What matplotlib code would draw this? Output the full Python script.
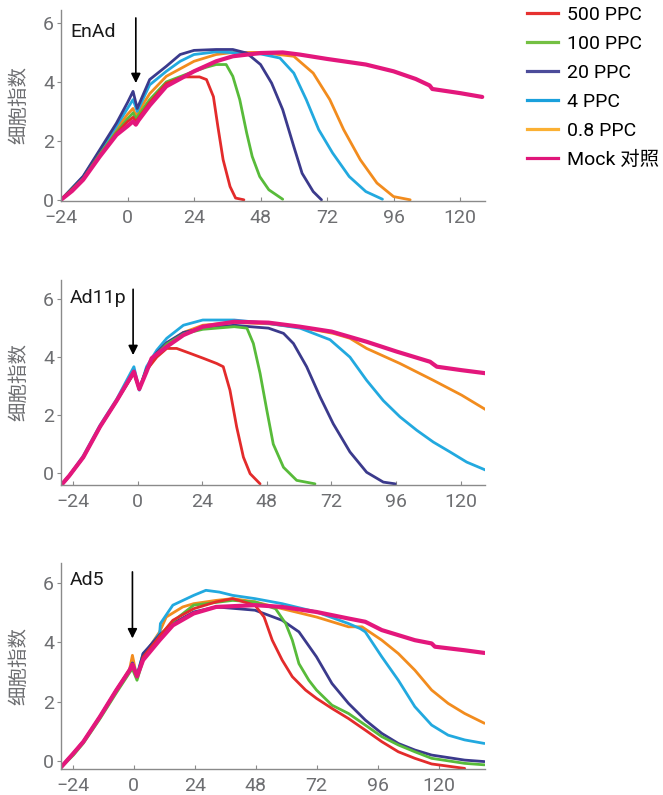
import matplotlib
matplotlib.use('Agg')
import matplotlib.pyplot as plt

plt.rcParams['font.family'] = ['Roboto', 'Noto Sans CJK SC', 'DejaVu Sans']

labels = ['500 PPC', '100 PPC', '20 PPC', '4 PPC', '0.8 PPC', 'Mock 对照']
colors = ['#e32b2b', '#58bb3a', '#3b3a8c', '#22a9df', '#f28c1e', '#e3177c']
legend_colors = ['#e63130', '#74c043', '#4c4c9a', '#1aa0dc', '#fbb033', '#e0157a']

# ---- EnAd ----
enad_t_500 = [-24, -16, -10, -4, 0, 2, 3, 8, 14, 20, 26, 28.5, 31, 32.6, 34.5, 37, 39, 42]
enad_v_500 = [0, 0.7, 1.5, 2.25, 2.65, 2.8, 2.65, 3.3, 3.95, 4.17, 4.17, 4.08, 3.5, 2.49, 1.36, 0.45, 0.06, 0]
enad_t_100 = [-24, -16, -10, -4, 0, 2, 3, 8, 14, 24, 28.5, 32, 35.6, 38, 40.5, 43, 45, 47.7, 51, 56]
enad_v_100 = [0, 0.72, 1.55, 2.3, 2.75, 2.95, 2.75, 3.4, 4.0, 4.36, 4.5, 4.59, 4.59, 4.19, 3.4, 2.27, 1.47, 0.79, 0.34, 0.02]
enad_t_20 = [-24, -16, -10, -4, 0, 2, 3.5, 8, 14, 19, 24, 32, 38, 43, 48, 52, 56, 60, 63, 67, 70]
enad_v_20 = [0, 0.8, 1.7, 2.6, 3.3, 3.68, 3.1, 4.08, 4.53, 4.93, 5.07, 5.1, 5.1, 4.98, 4.59, 3.96, 3.06, 1.81, 0.9, 0.28, 0]
enad_t_4 = [-24, -16, -10, -4, 0, 2, 3.5, 8, 14, 19, 24, 32, 48, 55, 60, 64.5, 69, 74, 80, 86, 92]
enad_v_4 = [0, 0.78, 1.65, 2.5, 3.1, 3.4, 3.0, 3.9, 4.36, 4.7, 4.93, 5.02, 4.95, 4.81, 4.3, 3.4, 2.38, 1.59, 0.79, 0.28, 0.02]
enad_t_08 = [-24, -16, -10, -4, 0, 2, 3, 8, 14, 24, 32, 38, 48, 60, 67, 73, 78, 84, 90, 96, 102]
enad_v_08 = [0, 0.75, 1.6, 2.4, 2.9, 3.1, 2.85, 3.6, 4.19, 4.7, 4.93, 5.0, 5.0, 4.87, 4.3, 3.4, 2.38, 1.36, 0.57, 0.11, 0]
enad_t_mock = [-24, -20, -16, -10, -4, 0, 2, 3, 4, 8, 14, 24, 32, 38, 48, 56, 62, 72, 86, 96, 104, 109, 110, 120, 128]
enad_v_mock = [0, 0.3, 0.68, 1.47, 2.2, 2.5, 2.66, 2.55, 2.7, 3.2, 3.85, 4.36, 4.7, 4.87, 4.98, 5.0, 4.93, 4.78, 4.59, 4.36, 4.1, 3.88, 3.76, 3.62, 3.49]

# ---- Ad11p ----
ad11_t_500 = [-28, -25.5, -20.2, -14, -7.8, -1.4, 0.6, 3.3, 7.1, 10.8, 14.5, 19.5, 24.4, 29.4, 31.8, 34.3, 36.8, 39.3, 41.8, 45.5]
ad11_v_500 = [-0.37, -0.1, 0.55, 1.6, 2.5, 3.45, 2.9, 3.55, 4.0, 4.3, 4.3, 4.13, 3.96, 3.78, 3.67, 2.86, 1.59, 0.55, -0.02, -0.37]
ad11_t_100 = [-28, -25.5, -20.2, -14, -7.8, -1.4, 0.6, 3.3, 7.1, 10.8, 17, 24.2, 35.9, 40.6, 43, 45.5, 48, 50.4, 54.2, 59.1, 65.9]
ad11_v_100 = [-0.37, -0.1, 0.55, 1.6, 2.5, 3.45, 2.9, 3.55, 4.1, 4.45, 4.8, 4.96, 5.05, 5.0, 4.47, 3.44, 2.17, 1.0, 0.2, -0.25, -0.37]
ad11_t_20 = [-28, -25.5, -20.2, -14, -7.8, -1.4, 0.6, 3.3, 7.1, 10.8, 17, 24.2, 35.9, 41.8, 48.6, 54.2, 57.9, 62.8, 67.8, 72.7, 78.9, 85.1, 91.3, 95.7]
ad11_v_20 = [-0.37, -0.1, 0.55, 1.6, 2.5, 3.5, 2.9, 3.6, 4.15, 4.5, 4.85, 5.0, 5.1, 5.05, 5.0, 4.82, 4.47, 3.67, 2.63, 1.7, 0.73, 0.03, -0.31, -0.37]
ad11_t_4 = [-28, -25.5, -20.2, -14, -7.8, -1.4, 0.6, 3.3, 7.1, 10.8, 17, 24.2, 35.9, 48, 60.3, 71.5, 78.9, 85.1, 91.3, 97.5, 103.7, 109.9, 116.1, 122.3, 129.7]
ad11_v_4 = [-0.37, -0.1, 0.6, 1.65, 2.55, 3.67, 2.86, 3.67, 4.24, 4.65, 5.1, 5.28, 5.28, 5.17, 5.0, 4.6, 4.0, 3.2, 2.5, 1.94, 1.48, 1.07, 0.73, 0.38, 0.09]
ad11_t_08 = [-28, -25.5, -20.2, -14, -7.8, -1.4, 0.6, 3.3, 7.1, 10.8, 17, 24.2, 35.9, 48.6, 60.3, 72.7, 78.9, 85.1, 97.5, 109.9, 120.4, 129.7]
ad11_v_08 = [-0.37, -0.1, 0.55, 1.6, 2.5, 3.5, 2.9, 3.55, 4.1, 4.45, 4.85, 5.1, 5.2, 5.15, 5.03, 4.82, 4.65, 4.3, 3.78, 3.2, 2.69, 2.17]
ad11_t_mock = [-28, -25.5, -20.2, -14, -7.8, -1.4, 0.6, 3.3, 5.2, 10.8, 17, 24.2, 35.9, 48.6, 60.3, 72.1, 85.1, 96.3, 108.7, 110, 111.2, 120.4, 129.7]
ad11_v_mock = [-0.37, -0.1, 0.55, 1.6, 2.5, 3.5, 2.9, 3.5, 3.96, 4.36, 4.76, 5.05, 5.22, 5.19, 5.05, 4.88, 4.53, 4.19, 3.84, 3.75, 3.67, 3.55, 3.44]

# ---- Ad5 ----
ad5_t_500 = [-29, -23.7, -19.8, -13.3, -6.8, -1.6, -0.5, 1.3, 3.7, 10.2, 15.4, 23.6, 32.4, 38.9, 47.7, 51.3, 54.5, 58.4, 62.4, 67.6, 71.9, 78, 84.5, 91.1, 97.6, 104.1, 110.6, 117.2, 130.2]
ad5_v_500 = [-0.25, 0.26, 0.65, 1.49, 2.39, 3.06, 3.2, 2.85, 3.5, 4.2, 4.74, 5.13, 5.36, 5.47, 5.25, 4.85, 4.07, 3.4, 2.84, 2.39, 2.11, 1.77, 1.43, 1.04, 0.65, 0.31, 0.09, -0.1, -0.25]
ad5_t_100 = [-29, -23.7, -19.8, -13.3, -6.8, -1.6, -0.5, 1.3, 3.7, 10.2, 15.4, 23.6, 38.9, 47.7, 55.8, 59.8, 62.4, 65, 68.9, 71.9, 78, 84.5, 91.1, 97.6, 104.1, 110.6, 117.2, 130.2, 138]
ad5_v_100 = [-0.25, 0.2, 0.6, 1.42, 2.3, 2.98, 3.1, 2.72, 3.4, 4.2, 4.7, 5.25, 5.41, 5.36, 5.13, 4.63, 4.07, 3.28, 2.72, 2.39, 1.88, 1.6, 1.21, 0.82, 0.54, 0.31, 0.09, -0.08, -0.13]
ad5_t_20 = [-29, -23.7, -19.8, -13.3, -6.8, -1.6, -0.5, 1.3, 3.7, 10.2, 15.4, 23.6, 32.4, 47.7, 58.4, 65, 71.9, 78, 84.5, 91.1, 97.6, 104.1, 110.6, 117.2, 130.2, 138]
ad5_v_20 = [-0.25, 0.26, 0.65, 1.49, 2.39, 3.06, 3.3, 2.85, 3.62, 4.25, 4.63, 5.02, 5.19, 5.08, 4.74, 4.35, 3.51, 2.61, 1.94, 1.38, 0.93, 0.59, 0.37, 0.2, 0.03, -0.02]
ad5_t_4 = [-29, -23.7, -19.8, -13.3, -6.8, -1.6, -0.5, 1.3, 3.7, 6.3, 10.2, 10.5, 15.4, 23.6, 28.4, 33.7, 38.9, 47.7, 58.4, 71.9, 84.5, 89.1, 91.1, 97.6, 104.1, 110.6, 117.2, 123.7, 130.2, 138]
ad5_v_4 = [-0.25, 0.26, 0.65, 1.49, 2.39, 3.06, 3.3, 2.9, 3.62, 3.85, 4.3, 4.63, 5.25, 5.58, 5.75, 5.69, 5.58, 5.47, 5.3, 5.02, 4.63, 4.46, 4.35, 3.51, 2.72, 1.83, 1.21, 0.87, 0.71, 0.59]
ad5_t_08 = [-29, -23.7, -19.8, -13.3, -6.8, -1.6, -0.5, 1.3, 3.7, 6.3, 10.2, 12.8, 19.3, 23.6, 32.4, 38.9, 47.7, 58.4, 71.9, 84.5, 89.8, 97.6, 104.1, 110.6, 117.2, 123.7, 130.2, 138]
ad5_v_08 = [-0.25, 0.26, 0.65, 1.49, 2.39, 3.1, 3.56, 2.8, 3.5, 3.85, 4.35, 4.85, 5.19, 5.3, 5.41, 5.47, 5.36, 5.13, 4.85, 4.52, 4.52, 4.07, 3.62, 3.06, 2.39, 1.94, 1.6, 1.27]
ad5_t_mock = [-29, -23.7, -19.8, -13.3, -6.8, -1.6, -0.5, 1.3, 3.7, 10.2, 15.4, 23.6, 32.4, 47.7, 58.4, 71.9, 84.5, 91.1, 97.6, 110.6, 117.2, 118.5, 130.2, 138]
ad5_v_mock = [-0.25, 0.26, 0.65, 1.49, 2.39, 3.06, 3.25, 2.85, 3.4, 4.07, 4.57, 4.97, 5.19, 5.25, 5.19, 5.02, 4.8, 4.69, 4.41, 4.07, 3.96, 3.85, 3.73, 3.64]

panels = [
    ('EnAd', [(enad_t_500, enad_v_500), (enad_t_100, enad_v_100), (enad_t_20, enad_v_20),
              (enad_t_4, enad_v_4), (enad_t_08, enad_v_08), (enad_t_mock, enad_v_mock)]),
    ('Ad11p', [(ad11_t_500, ad11_v_500), (ad11_t_100, ad11_v_100), (ad11_t_20, ad11_v_20),
               (ad11_t_4, ad11_v_4), (ad11_t_08, ad11_v_08), (ad11_t_mock, ad11_v_mock)]),
    ('Ad5', [(ad5_t_500, ad5_v_500), (ad5_t_100, ad5_v_100), (ad5_t_20, ad5_v_20),
             (ad5_t_4, ad5_v_4), (ad5_t_08, ad5_v_08), (ad5_t_mock, ad5_v_mock)]),
]

xticks = [-24, 0, 24, 48, 72, 96, 120]
yticks = [0, 2, 4, 6]
xlims = [(-24, 129), (-28.5, 129.1), (-28.6, 138.2)]
ylims = [(-0.03, 6.44), (-0.41, 6.66), (-0.27, 6.67)]
arrow_x = [3, -1.7, -0.5]
arrow_top = [6.17, 6.34, 6.37]
arrow_tip = [3.96, 4.07, 4.13]
name_y = [0.885, 0.912, 0.917]

W, H = 663, 795
fig = plt.figure(figsize=(W / 100, H / 100), dpi=100)
boxes = [(10, 200.7), (280, 485), (563, 769)]
draw_order = [4, 3, 2, 1, 0, 5]
gray = '#6d6e71'

for k, (name, series) in enumerate(panels):
    top, bot = boxes[k]
    ax = fig.add_axes([61 / W, 1 - bot / H, 424 / W, (bot - top) / H])
    for i in draw_order:
        t, v = series[i]
        lw = 3.0 if i == 5 else 2.0
        ax.plot(t, v, color=colors[i], lw=lw, solid_capstyle='round',
                solid_joinstyle='round')
    ax.set_xlim(*xlims[k])
    ax.set_ylim(*ylims[k])
    ax.set_xticks(xticks)
    ax.set_xticklabels(['\u221224' if x == -24 else str(x) for x in xticks])
    ax.set_yticks(yticks)
    for s in ['top', 'right']:
        ax.spines[s].set_visible(False)
    for s in ['left', 'bottom']:
        ax.spines[s].set_color('#8a8a8a')
        ax.spines[s].set_linewidth(1.0)
    ax.tick_params(axis='x', direction='in', length=3, pad=6, labelsize=14,
                   colors='#8a8a8a', labelcolor=gray)
    ax.tick_params(axis='y', direction='out', length=3, pad=2, labelsize=14,
                   colors='#8a8a8a', labelcolor=gray)
    ax.set_ylabel('细胞指数', fontsize=14, color=gray)
    ax.yaxis.set_label_coords(-0.078, 0.5)
    ax.text(0.021, name_y[k], name, transform=ax.transAxes, fontsize=14,
            color='#1a1a1a', va='center', ha='left')
    ax.annotate('', xy=(arrow_x[k], arrow_tip[k]), xytext=(arrow_x[k], arrow_top[k]),
                arrowprops=dict(arrowstyle='-|>', color='black', lw=1.2,
                                mutation_scale=14, shrinkA=0, shrinkB=0))

handles = [plt.Line2D([], [], color=c, lw=2.3) for c in legend_colors]
fig.legend(handles, labels, loc='upper left', bbox_to_anchor=(527 / W, 1 - 6 / H),
           frameon=False, fontsize=14, handlelength=1.6, handletextpad=0.45,
           labelspacing=0.56, borderpad=0, borderaxespad=0)

fig.savefig('out.png', dpi=100)
